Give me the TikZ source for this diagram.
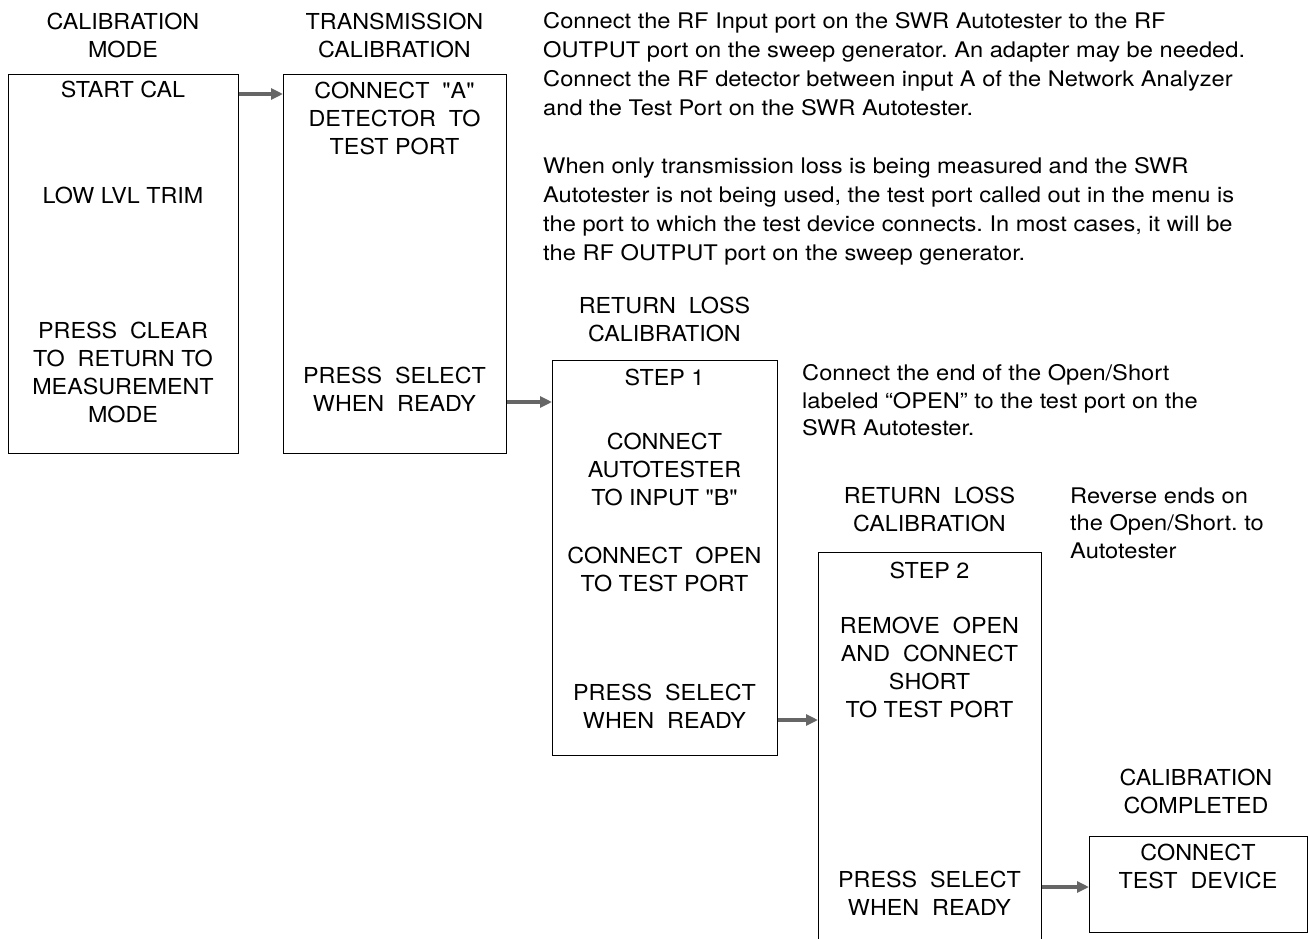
\documentclass[tikz,border=0pt]{standalone}
\usepackage{fontspec}
\setmainfont[Ligatures=TeXOff,FakeStretch=1.06]{TeX Gyre Heros}
\newfontfamily\parafont[Ligatures=TeXOff,FakeStretch=1.1]{TeX Gyre Heros}
\usetikzlibrary{arrows.meta}
\frenchspacing
\begin{document}
\begin{tikzpicture}[x=1pt,y=-1pt,
  box/.style={draw=black,line width=1.3pt,anchor=north west,inner sep=0pt},
  lbl/.style={align=center,anchor=north,inner sep=0pt,font=\fontsize{22}{28}\selectfont},
  para/.style={align=left,anchor=north west,inner sep=0pt,font=\parafont\fontsize{21.5}{29}\selectfont},
  note/.style={align=left,anchor=north west,inner sep=0pt,font=\parafont\fontsize{21.5}{27.5}\selectfont},
  flow/.style={draw=black!60,line width=3.5pt,-{Triangle[length=12pt,width=11pt]}}]
\useasboundingbox (0,0) rectangle (1309,939);

% boxes
\node[box,minimum width=230pt,minimum height=379pt] (b1) at (8,74) {};
\node[box,minimum width=223pt,minimum height=379pt] (b2) at (283,74) {};
\node[box,minimum width=225pt,minimum height=395pt] (b3) at (552,360) {};
\node[box,minimum width=223pt,minimum height=400pt] (b4) at (818,552) {};
\node[box,minimum width=218pt,minimum height=96pt] (b5) at (1089,836) {};

% titles
\node[lbl] (t1) at (123,13) {CALIBRATION\\MODE};
\node[lbl] (t2) at (394.5,13) {TRANSMISSION\\CALIBRATION};
\node[lbl] (t3) at (664.5,297) {RETURN\ \ LOSS\\CALIBRATION};
\node[lbl] (t4) at (929.5,487) {RETURN\ \ LOSS\\CALIBRATION};
\node[lbl] (t5) at (1196,769) {CALIBRATION\\COMPLETED};

% box 1
\node[lbl] (s1) at (123,81) {START CAL};
\node[lbl] (s2) at (123,187) {LOW LVL TRIM};
\node[lbl] (s3) at (123,322) {PRESS\ \ CLEAR\\TO\ \ RETURN TO\\MEASUREMENT\\MODE};

% box 2
\node[lbl] (r1) at (394.5,82) {CONNECT\ \ "A"\\DETECTOR\ \ TO\\TEST PORT};
\node[lbl] (r2) at (394.5,367) {PRESS\ \ SELECT\\WHEN\ \ READY};

% box 3
\node[lbl] (u1) at (664.5,369) {STEP 1};
\node[lbl] (u2) at (664.5,433) {CONNECT\\AUTOTESTER\\TO INPUT "B"};
\node[lbl] (u3) at (664.5,547) {CONNECT\ \ OPEN\\TO TEST PORT};
\node[lbl] (u4) at (664.5,684) {PRESS\ \ SELECT\\WHEN\ \ READY};

% box 4
\node[lbl] (v1) at (929.5,562) {STEP 2};
\node[lbl] (v2) at (929.5,617) {REMOVE\ \ OPEN\\AND\ \ CONNECT\\SHORT\\TO TEST PORT};
\node[lbl] (v3) at (929.5,871) {PRESS\ \ SELECT\\WHEN\ \ READY};

% box 5
\node[lbl] (w1) at (1198,844) {CONNECT\\TEST\ \ DEVICE};

% notes
\node[para] (p1) at (543,12.4) {Connect the RF Input port on the SWR Autotester to the RF\\OUTPUT port on the sweep generator. An adapter may be needed.\\Connect the RF detector between input A of the Network Analyzer\\and the Test Port on the SWR Autotester.};
\node[para] (p2) at (543,157.4) {When only transmission loss is being measured and the SWR\\Autotester is not being used, the test port called out in the menu is\\the port to which the test device connects. In most cases, it will be\\the RF OUTPUT port on the sweep generator.};
\node[note] (n1) at (802,364.4) {Connect the end of the Open/Short\\labeled “OPEN” to the test port on the\\SWR Autotester.};
\node[note] (n2) at (1070,487.4) {Reverse ends on\\the Open/Short. to\\Autotester};

% connectors
\coordinate (a1) at (0,94);
\coordinate (a2) at (0,402);
\coordinate (a3) at (0,720);
\coordinate (a4) at (0,887);
\draw[flow] (b1.east |- a1) -- (b2.west |- a1);
\draw[flow] (b2.east |- a2) -- (b3.west |- a2);
\draw[flow] (b3.east |- a3) -- (b4.west |- a3);
\draw[flow] (b4.east |- a4) -- (b5.west |- a4);
\end{tikzpicture}
\end{document}
